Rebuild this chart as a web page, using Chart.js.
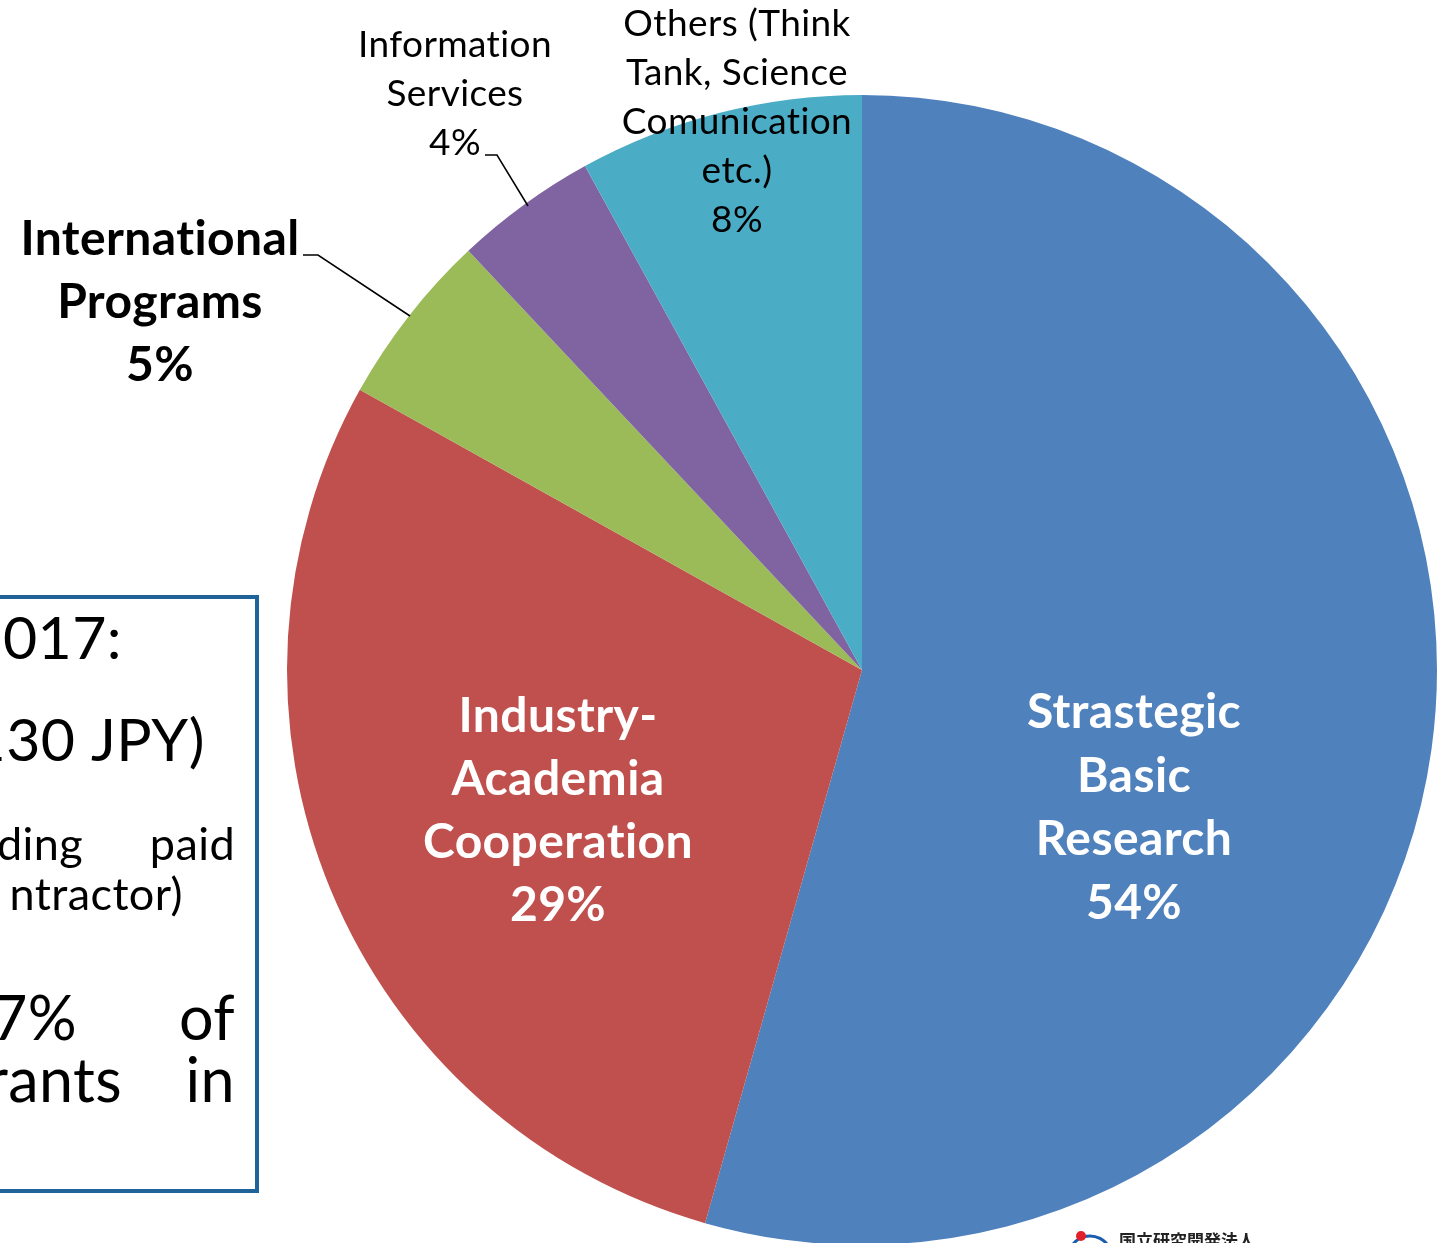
<!DOCTYPE html>
<html>
<head>
<meta charset="utf-8">
<script src="https://cdn.jsdelivr.net/npm/chart.js@4.4.0/dist/chart.umd.min.js"></script>
<style>
  html, body { margin: 0; padding: 0; background: #fff; overflow: hidden; }
  #wrap { position: relative; width: 1446px; height: 1243px; overflow: hidden; }
  #budgetPie { position: absolute; left: 0; top: 0; }
</style>
</head>
<body>
<div id="wrap">
  <canvas id="budgetPie" width="1446" height="1260"></canvas>
</div>
<script>
// Budget share by program (%)
const categories = [
  'Strastegic Basic Research',
  'Industry-Academia Cooperation',
  'International Programs',
  'Information Services',
  'Others (Think Tank, Science Comunication etc.)'
];
const shares = [54.4, 28.7, 4.9, 4.0, 8.0];
const sliceColors = ['#4F81BD', '#C0504D', '#9BBB59', '#8064A2', '#4BACC6'];

const FONT = 'Lato, "Open Sans", sans-serif';

function pct(i) {
  return Math.round(shares[i]) + '%';
}

// draw multi-line text centred on x, lines at given y
function drawLines(ctx, lines, x, y0, gap, font, color) {
  ctx.font = font;
  ctx.fillStyle = color;
  ctx.textAlign = 'center';
  ctx.textBaseline = 'middle';
  lines.forEach((t, i) => ctx.fillText(t, x, y0 + i * gap));
}

// labels, leader lines, the cut-off text box and logo
const labelPlugin = {
  id: 'pieLabels',
  afterDraw(chart) {
    const ctx = chart.ctx;
    ctx.save();
    // small spacing keeps Lato from joining "ti"
    ctx.letterSpacing = '0.4px';

    const bold = 'bold 48px ' + FONT;
    const normal = '37px ' + FONT;

    drawLines(ctx, ['Strastegic', 'Basic', 'Research', pct(0)], 1134, 713, 63.5, bold, '#fff');
    drawLines(ctx, ['Industry-', 'Academia', 'Cooperation', pct(1)], 558, 717, 63, bold, '#fff');
    drawLines(ctx, ['International', 'Programs', pct(2)], 160, 240, 63, bold, '#000');
    drawLines(ctx, ['Information', 'Services', pct(3)], 455, 45, 49, normal, '#000');
    drawLines(ctx, ['Others (Think', 'Tank, Science', 'Comunication', 'etc.)', pct(4)], 737, 24, 49, normal, '#000');

    // leader lines
    ctx.strokeStyle = '#000';
    ctx.lineWidth = 1.5;
    ctx.beginPath();
    ctx.moveTo(303, 255); ctx.lineTo(318, 255); ctx.lineTo(410, 316);
    ctx.moveTo(485, 155); ctx.lineTo(497, 155); ctx.lineTo(528, 206);
    ctx.stroke();

    // text box (left part is off the slide)
    ctx.fillStyle = '#fff';
    ctx.fillRect(-10, 597, 267, 594);
    ctx.strokeStyle = '#1F6399';
    ctx.lineWidth = 4;
    ctx.strokeRect(-10, 597, 267, 594);

    ctx.fillStyle = '#000';
    ctx.textAlign = 'right';
    ctx.textBaseline = 'middle';
    ctx.font = '59px ' + FONT;
    ctx.fillText('2017:', 122, 640);
    ctx.fillText('130 JPY)', 205, 742);
    ctx.font = '45px ' + FONT;
    ctx.fillText('ding', 83, 845);
    ctx.fillText('paid', 235, 845);
    ctx.fillText('ntractor)', 183, 895);
    ctx.font = '61px ' + FONT;
    ctx.fillText('7%', 77, 1020);
    ctx.fillText('of', 235, 1020);
    ctx.fillText('rants', 122, 1082);
    ctx.fillText('in', 235, 1082);

    // logo at the bottom edge
    ctx.letterSpacing = '0px';
    ctx.strokeStyle = '#1A5CB0';
    ctx.lineWidth = 3;
    ctx.beginPath();
    ctx.arc(1090, 1258, 22, Math.PI * 1.15, Math.PI * 1.85);
    ctx.stroke();
    ctx.fillStyle = '#E0202A';
    ctx.beginPath();
    ctx.arc(1081, 1236, 5, 0, Math.PI * 2);
    ctx.fill();
    ctx.fillStyle = '#222';
    ctx.textAlign = 'left';
    ctx.textBaseline = 'top';
    ctx.font = 'bold 17px "Noto Sans CJK JP"';
    ctx.fillText('国立研究開発法人', 1119, 1232);

    ctx.restore();
  }
};

new Chart(document.getElementById('budgetPie').getContext('2d'), {
  type: 'pie',
  data: {
    labels: categories,
    datasets: [{
      data: shares,
      backgroundColor: sliceColors,
      borderWidth: 0
    }]
  },
  options: {
    responsive: false,
    animation: false,
    layout: { padding: { left: 287, right: 9, top: 95, bottom: 15 } },
    plugins: {
      legend: { display: false },
      tooltip: { enabled: false }
    }
  },
  plugins: [labelPlugin]
});
</script>
</body>
</html>
